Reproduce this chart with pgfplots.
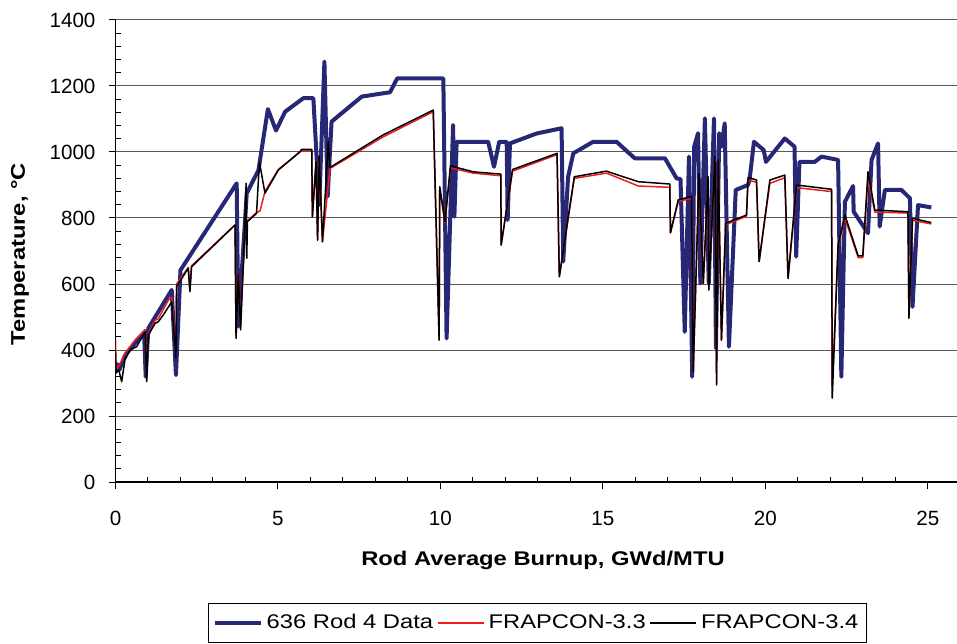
\documentclass[border=0pt]{standalone}
\usepackage{fontspec}
\setmainfont{Liberation Sans}
\newfontfamily\widefont{Liberation Sans}[FakeStretch=1.2]
\usepackage{pgfplots}
\pgfplotsset{compat=1.18}
\definecolor{navyd}{RGB}{38,40,118}
\definecolor{redl}{RGB}{240,28,28}
\begin{document}
\begin{tikzpicture}
\begin{axis}[
  at={(57.75pt,80.5pt)}, anchor=south west,
  scale only axis, width=420.75pt, height=231pt,
  xmin=0, xmax=25.9, ymin=0, ymax=1400,
  axis x line*=bottom, axis y line*=left,
  axis line style={black, line width=0.6pt, -},
  xtick={0,5,...,25}, minor x tick num=4,
  ytick={0,200,...,1400}, minor y tick num=4,
  tick align=outside, major tick length=3.5pt, minor tick length=-2.5pt,
  tick style={black, line width=0.5pt},
  ymajorgrids, major grid style={black!65, line width=0.5pt},
  /pgf/number format/assume math mode=true,
  /pgf/number format/1000 sep={},
  tick label style={font=\fontsize{10.3}{12}\selectfont},
  yticklabel style={xshift=-3pt},
  xticklabel style={yshift=-7.5pt},
  xlabel={Rod Average Burnup, GWd/MTU},
  ylabel={Temperature, °C},
  label style={font=\widefont\bfseries\fontsize{9.9}{11}\selectfont},
  xlabel style={at={(axis description cs:0.508,0)}, anchor=center, yshift=-39pt},
  ylabel style={at={(axis description cs:-0.1135,0.4935)}, anchor=center},
  legend style={at={(0.5015,0)}, anchor=north, yshift=-60.35pt, draw=black, line width=0.5pt,
    font=\widefont\fontsize{9.9}{11}\selectfont, inner xsep=2pt, inner ysep=3.5pt,
    /tikz/every even column/.append style={column sep=0pt}},
  legend columns=3,
  legend image code/.code={\draw[#1] (0pt,0pt) -- (23pt,0pt);},
  every axis plot/.append style={line join=round},
]
\addplot[navyd, line width=2pt] table {
x y
0.02 360
0.12 340
0.30 385
0.60 420
0.88 450
0.93 319
1.01 466
1.73 582
1.86 324
2.00 642
3.73 905
3.78 471
4.04 875
4.40 945
4.69 1130
4.94 1065
5.22 1122
5.78 1163
6.09 1163
6.27 840
6.43 1274
6.53 865
6.65 1092
7.58 1168
8.45 1181
8.67 1223
10.09 1223
10.19 435
10.39 1082
10.43 804
10.50 1031
11.47 1031
11.65 955
11.81 1031
12.04 1031
12.07 794
12.14 1026
12.96 1056
13.73 1072
13.78 668
13.93 925
14.09 996
14.70 1031
15.42 1031
15.98 981
16.91 981
17.27 920
17.39 918
17.52 455
17.65 986
17.75 319
17.81 1016
17.93 1057
18.00 602
18.14 1102
18.26 602
18.42 1102
18.48 405
18.58 1057
18.65 1016
18.75 1087
18.88 410
19.09 885
19.47 900
19.52 920
19.65 1031
19.95 1006
20.02 970
20.60 1041
20.90 1016
20.95 683
21.05 970
21.52 970
21.73 986
22.24 976
22.34 319
22.45 849
22.70 897
22.72 819
23.16 754
23.27 976
23.47 1026
23.52 774
23.68 885
24.19 885
24.45 860
24.53 531
24.70 839
25.11 832
};
\addlegendentry{636 Rod 4 Data}
\addplot[redl, line width=0.75pt] table {
x y
0.00 430
0.02 340
0.15 360
0.29 390
0.60 430
0.91 462
0.96 320
1.01 450
1.22 490
1.32 495
1.63 552
1.73 560
1.86 380
1.88 600
2.24 650
2.29 580
2.34 655
3.68 779
3.71 440
3.78 627
3.85 465
3.98 785
4.06 792
4.34 816
4.45 822
4.60 880
5.01 947
5.73 1004
6.04 1004
6.06 804
6.17 966
6.22 733
6.27 982
6.37 728
6.60 950
8.24 1046
9.78 1122
9.96 430
9.98 890
10.14 786
10.31 952
11.01 936
11.86 928
11.87 718
12.22 942
13.59 992
13.66 622
14.12 920
15.11 936
16.09 897
17.06 893
17.08 755
17.32 850
17.73 860
17.78 334
17.96 930
18.09 600
18.24 920
18.26 582
18.45 980
18.50 300
18.55 970
18.65 430
18.78 780
19.42 805
19.47 915
19.73 908
19.81 668
20.14 905
20.60 922
20.70 617
20.96 892
22.04 880
22.06 290
22.24 715
22.45 800
22.86 680
23.00 680
23.16 920
23.37 818
24.39 815
24.42 500
24.53 793
25.11 782
};
\addlegendentry{FRAPCON-3.3}
\addplot[black, line width=0.75pt] table {
x y
0.00 390
0.02 330
0.10 340
0.19 304
0.29 370
0.45 400
0.65 410
0.91 455
0.96 304
1.01 445
1.22 481
1.32 486
1.47 506
1.73 546
1.86 375
1.88 592
2.24 648
2.29 577
2.34 652
3.68 779
3.71 435
3.78 627
3.85 461
3.98 780
4.02 905
4.04 678
4.06 789
4.34 814
4.43 970
4.60 875
5.01 945
5.68 1001
5.73 1008
6.04 1008
6.06 804
6.17 970
6.22 733
6.27 986
6.37 728
6.55 1031
6.60 953
8.24 1052
9.78 1127
9.96 430
9.98 895
10.14 789
10.31 958
11.01 940
11.86 933
11.87 718
12.22 947
13.59 996
13.66 622
14.12 925
15.11 942
16.09 910
17.06 903
17.08 755
17.32 855
17.73 865
17.78 334
17.96 935
18.09 602
18.24 925
18.26 582
18.45 986
18.50 294
18.55 976
18.65 430
18.78 784
19.42 809
19.47 923
19.73 915
19.81 668
20.14 915
20.60 930
20.70 617
20.96 900
22.04 887
22.06 254
22.24 718
22.45 809
22.86 685
23.00 685
23.16 940
23.37 824
24.39 819
24.42 496
24.53 799
25.11 786
};
\addlegendentry{FRAPCON-3.4}
\end{axis}
\pgfresetboundingbox
\path[use as bounding box] (0,0) rectangle (478.5pt,321.5pt);
\end{tikzpicture}
\end{document}
